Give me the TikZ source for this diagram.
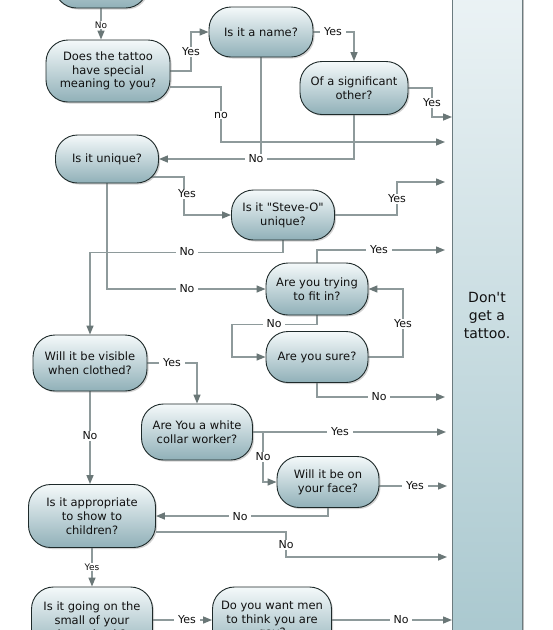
\documentclass[tikz,border=0pt]{standalone}
\usepackage{fontspec}
\setmainfont{DejaVu Sans}[Ligatures=TeXOff]
\usetikzlibrary{arrows.meta,shadows,calc}
\definecolor{linegray}{HTML}{8E9A9B}
\definecolor{tipgray}{HTML}{6A7777}
\definecolor{nodetop}{HTML}{F4F9FA}
\definecolor{nodebot}{HTML}{90B0B8}
\definecolor{nodeedge}{HTML}{1E2A2A}
\definecolor{boxtop}{HTML}{EDF4F6}
\definecolor{boxbot}{HTML}{A8C7CE}
\definecolor{boxedge}{HTML}{6B7B7F}
\definecolor{txt}{HTML}{111111}
\pgfdeclarelayer{bg}
\pgfsetlayers{bg,main}
\begin{document}
\begin{tikzpicture}[x=1pt,y=-1pt,
  q/.style={draw=nodeedge, line width=0.9pt, rounded corners=22pt, top color=nodetop, bottom color=nodebot, align=center, text=txt, font=\fontsize{11.5}{13.8}\selectfont, inner sep=2pt, drop shadow={opacity=0.35, shadow xshift=1.5pt, shadow yshift=-1.5pt}},
  conn/.style={draw=linegray, line width=1.4pt, -{Triangle[length=9pt,width=7pt,fill=tipgray,color=tipgray]}},
  plain/.style={draw=linegray, line width=1.4pt},
  lbl/.style={fill=white, inner xsep=4pt, inner ysep=1pt, text=txt, font=\fontsize{11}{12}\selectfont},
  slbl/.style={fill=white, inner xsep=3pt, inner ysep=1pt, text=txt, font=\fontsize{9}{10}\selectfont},
]
\useasboundingbox (0,0) rectangle (553,630);
\begin{pgfonlayer}{bg}
\fill[white] (0,0) rectangle (553,630);
\end{pgfonlayer}

% decision nodes
\node[q, minimum width=93pt, minimum height=58pt] (n0) at (101,-21) {};
\node[q, minimum width=124pt, minimum height=62pt] (n1) at (108,71) {Does the tattoo\\have special\\meaning to you?};
\node[q, minimum width=104pt, minimum height=50pt] (n2) at (261,32) {Is it a name?};
\node[q, minimum width=108pt, minimum height=53pt] (n3) at (354,88) {Of a significant\\other?};
\node[q, minimum width=103pt, minimum height=48pt] (n4) at (107,159) {Is it unique?};
\node[q, minimum width=103pt, minimum height=50pt] (n5) at (283,215) {Is it "Steve-O"\\unique?};
\node[q, minimum width=102pt, minimum height=52pt] (n6) at (317,289) {Are you trying\\to fit in?};
\node[q, minimum width=102pt, minimum height=51pt] (n7) at (317,357) {Are you sure?};
\node[q, minimum width=114pt, minimum height=56pt] (n8) at (90,363) {Will it be visible\\when clothed?};
\node[q, minimum width=111pt, minimum height=56pt] (n9) at (197,432) {Are You a white\\collar worker?};
\node[q, minimum width=102pt, minimum height=51pt] (n10) at (328,482) {Will it be on\\your face?};
\node[q, minimum width=127pt, minimum height=63pt] (n11) at (92,516) {Is it appropriate\\to show to\\children?};
\node[q, minimum width=121pt, minimum height=66pt] (n12) at (92,620) {Is it going on the\\small of your\\lower back?};
\node[q, minimum width=119pt, minimum height=66pt] (n13) at (272,620) {Do you want men\\to think you are\\gay?};

% result box
\node[draw=boxedge, line width=0.8pt, top color=boxtop, bottom color=boxbot, minimum width=70pt, minimum height=680pt, align=center, text=txt, font=\fontsize{14}{18}\selectfont, drop shadow={opacity=0.5, shadow xshift=1.5pt, shadow yshift=0pt}] (dont) at (487,315) {Don't\\get a\\tattoo.};

% free ends of the arrows into the box
\coordinate (e1) at (452,117);
\coordinate (e2) at (445,142);
\coordinate (e3) at (445,182);
\coordinate (e4) at (445,250);
\coordinate (e5) at (445,397);
\coordinate (e6) at (446,432);
\coordinate (e7) at (447,486);
\coordinate (e8) at (447,557);
\coordinate (e9) at (452,620);

\begin{pgfonlayer}{bg}
\draw[conn] (n0.south) -- (n0.south |- n1.north);
\draw[conn] (n1.east) -- (191,71) |- (n2.west);
\draw[conn] (n2.east) -| (n3.north);
\draw[conn] (n3.east) -- (432,88) |- (e1);
\draw[conn] ([yshift=-16pt]n1.east) -- (221,87) |- (e2);
\draw[plain] (n2.south) -- (n2.south |- n4.east);
\draw[conn] (n3.south) |- (n4.east);
\draw[conn] ($(n4.center)+(40,18)$) -- (184,177) |- (n5.west);
\draw[conn] (n5.east) -- (397,215) |- (e3);
\draw[conn] (n5.south) -- ++(0,12) -| (n8.north);
\draw[conn] (n4.south) |- (n6.west);
\draw[conn] (n6.north) |- (e4);
\draw[conn] (n6.south) -- ++(0,9) -| (232,340) |- (n7.west);
\draw[conn] (n7.east) -- (403,357) |- (n6.east);
\draw[conn] (n7.south) |- (e5);
\draw[conn] (n8.east) -| (n9.north);
\draw[conn] (n8.south) -- (n8.south |- n11.north);
\draw[conn] (n9.east) -- (e6);
\draw[conn] ($(n9.east)+(10,0)$) |- (n10.west);
\draw[conn] (n10.east |- e7) -- (e7);
\draw[conn] (n10.south) |- (n11.east);
\draw[conn] ([yshift=-16pt]n11.east) -- (286,532) |- (e8);
\draw[conn] (n11.south) -- (n12.north);
\draw[conn] (n12.east) -- (n13.west);
\draw[conn] (n13.east) -- (e9);
\end{pgfonlayer}

% labels
\node[slbl] (l1) at (101,25) {No};
\node[lbl] (l2) at (191,52) {Yes};
\node[lbl] (l3) at (333,32) {Yes};
\node[lbl] (l4) at (432,103) {Yes};
\node[lbl] (l5) at (221,115) {no};
\node[lbl] (l6) at (256,159) {No};
\node[lbl] (l7) at (187,194) {Yes};
\node[lbl] (l8) at (397,199) {Yes};
\node[lbl] (l9) at (187,252) {No};
\node[lbl] (l10) at (187,289) {No};
\node[lbl] (l11) at (379,250) {Yes};
\node[lbl] (l12) at (274,324) {No};
\node[lbl] (l13) at (403,324) {Yes};
\node[lbl] (l14) at (379,397) {No};
\node[lbl] (l15) at (172,363) {Yes};
\node[lbl] (l16) at (90,436) {No};
\node[lbl] (l17) at (340,432) {Yes};
\node[lbl] (l18) at (263,457) {No};
\node[lbl] (l19) at (415,486) {Yes};
\node[lbl] (l20) at (240,517) {No};
\node[lbl] (l21) at (286,545) {No};
\node[slbl] (l22) at (92,567) {Yes};
\node[lbl] (l23) at (187,620) {Yes};
\node[lbl] (l24) at (401,620) {No};
\end{tikzpicture}
\end{document}
